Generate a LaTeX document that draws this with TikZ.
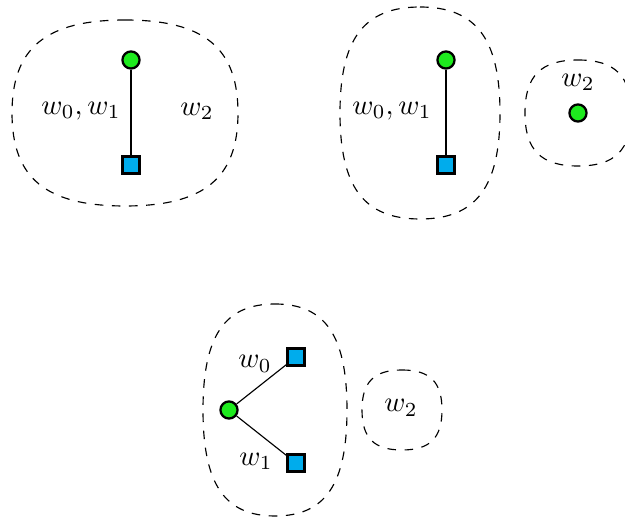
\documentclass[tikz,border=0pt]{standalone}
\usepackage{tikz,xcolor}
\usetikzlibrary{positioning}
\definecolor{vargreen}{RGB}{30,235,30}
\definecolor{facblue}{RGB}{0,172,236}
% dashed region round a group: centre x, centre y, half width, half height
\newcommand{\drawblob}[4]{%
  \draw[region] (#1,#2-#4) .. controls (#1+0.7*#3,#2-#4) and (#1+#3,#2-0.7*#4) .. (#1+#3,#2)
    .. controls (#1+#3,#2+0.7*#4) and (#1+0.7*#3,#2+#4) .. (#1,#2+#4)
    .. controls (#1-0.7*#3,#2+#4) and (#1-#3,#2+0.7*#4) .. (#1-#3,#2)
    .. controls (#1-#3,#2-0.7*#4) and (#1-0.7*#3,#2-#4) .. cycle;}
\begin{document}
\begin{tikzpicture}[x=0.35pt,y=-0.35pt,
    var/.style={shape=circle,draw,thick,fill=vargreen,minimum size=6pt,inner sep=0pt},
    fac/.style={shape=rectangle,draw,thick,fill=facblue,minimum size=6pt,inner sep=0pt},
    region/.style={dashed,thin},]
    \useasboundingbox (0,0) rectangle (625,521);
    \clip (0,0) rectangle (625,521);
    % create the nodes
    \node (v1)[var] at (131,60) {};
    \node (f1)[fac] at (131,165) {};
    \node (a1) at (81,111) {$w_0,w_1$};
    \node (b1) at (197,111) {$w_2$};
    \node (v2)[var] at (446,60) {};
    \node (f2)[fac] at (446,165) {};
    \node (a2) at (392,111) {$w_0,w_1$};
    \node (v3)[var] at (578,113) {};
    \node (b3)[above =1pt of v3] {$w_2$};
    \node (v4)[var] at (229,410) {};
    \node (f4)[fac] at (296,357) {};
    \node (f5)[fac] at (296,463) {};
    \node (a4) at (255,364) {$w_0$};
    \node (a5) at (256,461) {$w_1$};
    \node (b4) at (401,408) {$w_2$};
    % connect the nodes
    \draw (v1) -- (f1);
    \draw (v2) -- (f2);
    \draw (v4) -- (f4);
    \draw (v4) -- (f5);
    % the regions
    \drawblob{125}{113}{113}{93}
    \drawblob{420}{113}{80}{106}
    \drawblob{578}{113}{53}{53}
    \drawblob{275}{410}{72}{106}
    \drawblob{402}{410}{40}{40}
\end{tikzpicture}
\end{document}
